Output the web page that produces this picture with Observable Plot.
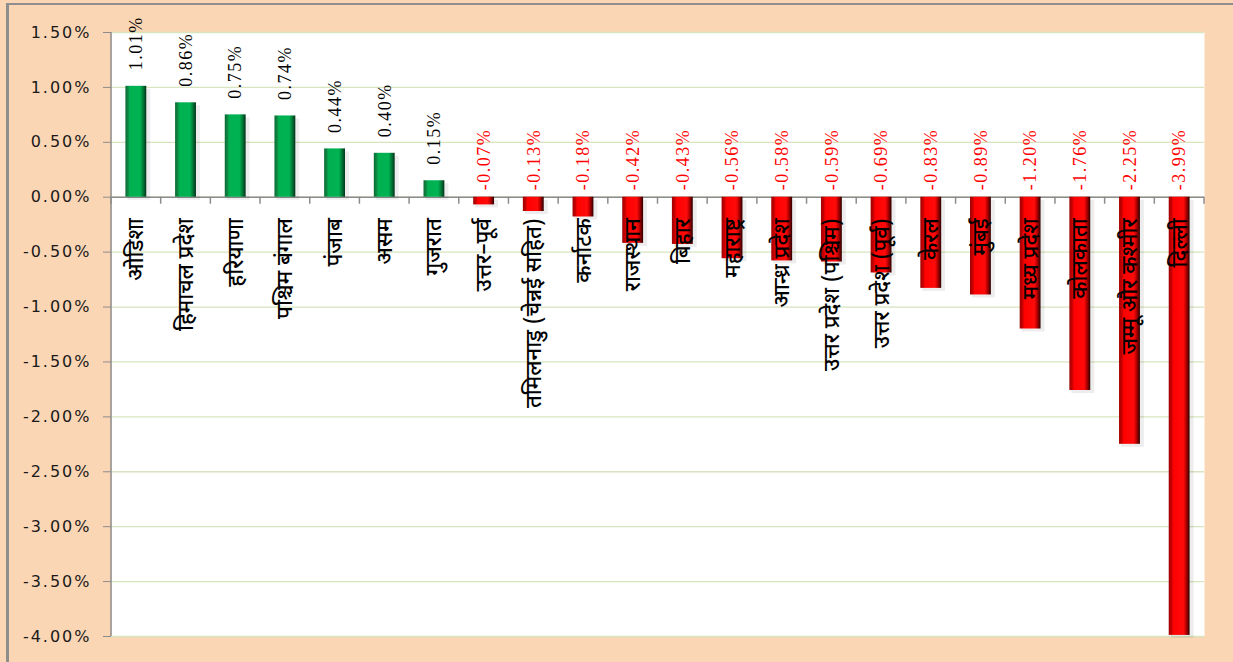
<!DOCTYPE html>
<html>
<head>
<meta charset="utf-8">
<script src="https://cdn.jsdelivr.net/npm/d3@7"></script>
<script src="https://cdn.jsdelivr.net/npm/@observablehq/plot@0.6"></script>
<style>
  html, body { margin: 0; padding: 0; width: 1233px; height: 662px; overflow: hidden; background: #FBD6B5; }
  #wrap { position: relative; width: 1233px; height: 662px; }
  #topline { position: absolute; left: 6px; top: 3px; width: 1227px; height: 2px; background: #8e8e8e; }
  #leftline { position: absolute; left: 6px; top: 3px; width: 3px; height: 659px; background: #8e8e8e; }
  #chart { position: absolute; left: 0; top: 0; }
  g[aria-label="y-axis tick label"] text { letter-spacing: 2px; }
  g.vlab text { letter-spacing: 1.5px; }
</style>
</head>
<body>
<div id="wrap">
  <div id="topline"></div>
  <div id="leftline"></div>
  <div id="chart"></div>
</div>
<script>
const states = [
  "ओडिशा", "हिमाचल प्रदेश", "हरियाणा", "पश्चिम बंगाल", "पंजाब", "असम", "गुजरात",
  "उत्तर–पूर्व", "तमिलनाडु (चेन्नई सहित)", "कर्नाटक", "राजस्थान", "बिहार", "महाराष्ट्र",
  "आन्ध्र प्रदेश", "उत्तर प्रदेश (पश्चिम)", "उत्तर प्रदेश (पूर्व)", "केरल", "मुंबई",
  "मध्य प्रदेश", "कोलकाता", "जम्मू और कश्मीर", "दिल्ली"
];
const values = [1.01, 0.86, 0.75, 0.74, 0.44, 0.40, 0.15, -0.07, -0.13, -0.18, -0.42, -0.43, -0.56,
  -0.58, -0.59, -0.69, -0.83, -0.89, -1.20, -1.76, -2.25, -3.99];
const yTicks = [1.5, 1.0, 0.5, 0.0, -0.5, -1.0, -1.5, -2.0, -2.5, -3.0, -3.5, -4.0];

const data = states.map((s, i) => ({state: s, value: values[i]}));
const pos = data.filter(d => d.value >= 0);
const neg = data.filter(d => d.value < 0);
const fmt = v => v.toFixed(2) + "%";

const devFont = "'Noto Sans Devanagari', 'Lohit Devanagari', 'Noto Sans', sans-serif";

const plot = Plot.plot({
  width: 1233,
  height: 662,
  marginLeft: 111,
  marginRight: 29,
  marginTop: 32,
  marginBottom: 26,
  style: {background: "transparent", overflow: "visible"},
  x: {domain: states, paddingInner: 0.58, paddingOuter: 0.29, round: false, axis: null},
  y: {domain: [-4, 1.5], axis: null},
  marks: [
    Plot.frame({fill: "white", stroke: null}),
    Plot.gridY(yTicks, {stroke: "#d7e4bd", strokeOpacity: 1, strokeWidth: 1.3}),
    Plot.ruleY([0], {stroke: "#8c8c8c", strokeWidth: 1.5}),
    // soft shadow
    Plot.barY(data, {x: "state", y: "value", fill: "#000", fillOpacity: 0.07, dx: 3, dy: 3, insetLeft: -1, insetRight: -1}),
    Plot.barY(data, {x: "state", y: "value", fill: d => d.value >= 0 ? "url(#gGreen)" : "url(#gRed)"}),
    Plot.axisY(yTicks, {
      label: null, tickFormat: fmt, tickSize: 8, tickPadding: 12, stroke: "#8c8c8c",
      fill: "#1a1a1a", fontSize: 16, fontFamily: "'DejaVu Sans', Verdana, sans-serif"
    }),
    Plot.text(pos, {
      x: "state", y: "value", text: d => fmt(d.value), rotate: -90, textAnchor: "start",
      dy: -16, fill: "#000", fontSize: 18, fontFamily: "'Liberation Serif', serif", className: "vlab"
    }),
    Plot.text(neg, {
      x: "state", y: () => 0, text: d => fmt(d.value), rotate: -90, textAnchor: "start",
      dy: -7, fill: "#ff0000", fontSize: 18, fontFamily: "'Liberation Serif', serif", className: "vlab"
    }),
    Plot.text(data, {
      x: "state", y: () => 0, text: "state", rotate: -90, textAnchor: "end",
      dy: 21, fill: "#000", fontSize: 22, fontWeight: 500, fontFamily: devFont
    })
  ]
});

// gradients for the bevelled bars
const svg = d3.select(plot);
const defs = svg.insert("defs", ":first-child");
function grad(id, stops) {
  const g = defs.append("linearGradient").attr("id", id).attr("x1", "0").attr("x2", "1").attr("y1", "0").attr("y2", "0");
  stops.forEach(([o, c]) => g.append("stop").attr("offset", o).attr("stop-color", c));
}
grad("gGreen", [[0, "#0a6a33"], [0.14, "#0f8a45"], [0.2, "#00b050"], [0.7, "#00b353"], [0.82, "#00853b"], [1, "#02331a"]]);
grad("gRed", [[0, "#a00000"], [0.14, "#c80000"], [0.22, "#ff0000"], [0.7, "#ff0a0a"], [0.82, "#c00000"], [1, "#2a0000"]]);

// axis line and category boundary ticks from the scales
const sx = plot.scale("x"), sy = plot.scale("y");
const step = sx.bandwidth / (1 - 0.58);
const y0 = sy.apply(0);
const axisG = svg.append("g").attr("stroke", "#8c8c8c").attr("stroke-width", 1.5);
axisG.append("line").attr("x1", sx.range[0]).attr("x2", sx.range[0]).attr("y1", sy.apply(1.5)).attr("y2", sy.apply(-4));
const bounds = states.map(s => sx.apply(s) + sx.bandwidth / 2 - step / 2);
bounds.push(sx.range[1]);
bounds.forEach(b => axisG.append("line").attr("x1", b).attr("x2", b).attr("y1", y0).attr("y2", y0 + 7));

document.getElementById("chart").appendChild(plot);
</script>
</body>
</html>
